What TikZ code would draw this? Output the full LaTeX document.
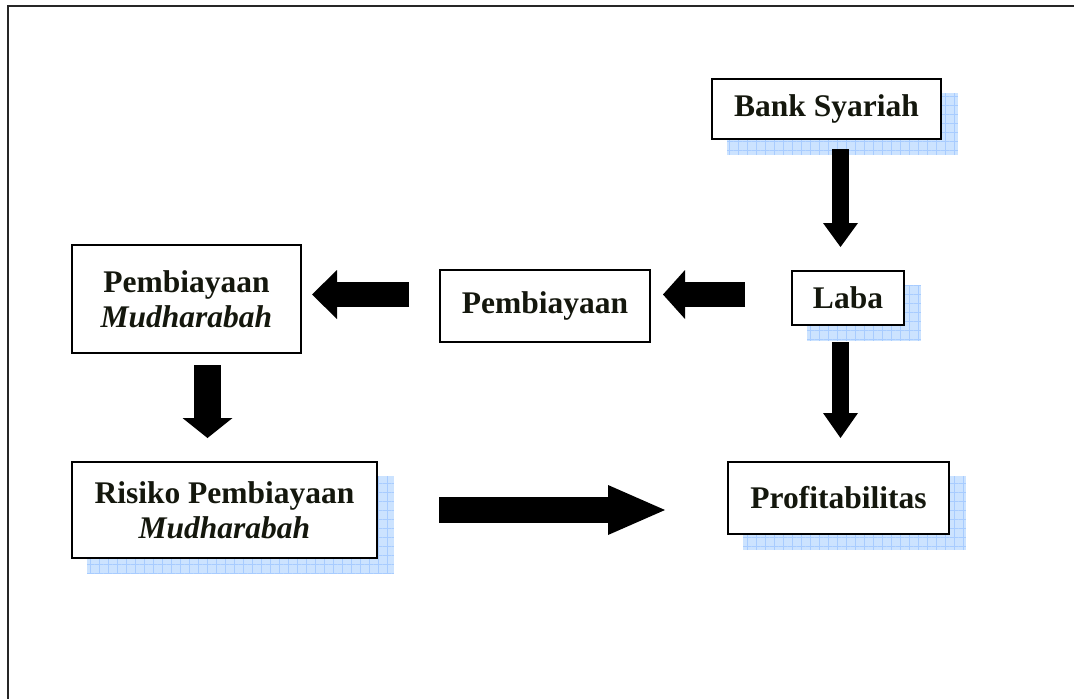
\documentclass[tikz,border=0pt]{standalone}
\usepackage{fontspec}
\setmainfont{Liberation Serif}
\usetikzlibrary{arrows.meta,calc,backgrounds,patterns.meta}
\definecolor{ShadowClr}{rgb}{0.80,0.89,1}
\definecolor{GridClr}{rgb}{0.66,0.80,1}
\definecolor{TextClr}{rgb}{0.08,0.09,0.05}

\tikzset{
  box/.style={draw=black,line width=1.6pt,fill=white,inner sep=0pt,align=center,
    text=TextClr,font=\fontsize{31.5}{35}\selectfont\bfseries},
  blockarr/.style n args={3}{line width=#1,line cap=butt,
    -{Triangle[length=#2,width=#3,line width=0pt]}},
  shadowbox/.style={fill=ShadowClr,postaction={pattern={Hatch[angle=0,distance=9pt,line width=0.6pt]},pattern color=GridClr}}
}

\begin{document}
\begin{tikzpicture}[x=1pt,y=-1pt]
\useasboundingbox (0,0) rectangle (1074,699);

\draw[line width=2pt,black!85] (8,699) -- (8,6) -- (1074,6);

\node[box,minimum width=229pt,minimum height=60pt] (bank) at (826.5,109) {Bank Syariah};
\node[box,minimum width=112pt,minimum height=54pt] (laba) at (848,298) {Laba};
\node[box,minimum width=210pt,minimum height=72pt] (pemb) at (545,306) {Pembiayaan};
\node[box,minimum width=229pt,minimum height=108pt] (pmud) at (186.5,299)
  {Pembiayaan\\\textit{Mudharabah}};
\node[box,minimum width=305pt,minimum height=96pt] (risk) at (224.5,510)
  {Risiko Pembiayaan\\\textit{Mudharabah}};
\node[box,minimum width=221pt,minimum height=72pt] (prof) at (838.5,498) {Profitabilitas};

\begin{scope}[on background layer]
\foreach \n in {bank,laba,risk,prof}
  \path[shadowbox] ($(\n.north west)+(16,15)$) rectangle ($(\n.south east)+(16,15)$);
\end{scope}

\coordinate (a1s) at (409,294.5);
\coordinate (a1e) at (312,294.5);
\coordinate (a2s) at (745,294.5);
\coordinate (a2e) at (663,294.5);
\coordinate (a3s) at (207.5,365);
\coordinate (a3e) at (207.5,438);
\coordinate (a4s) at (840.5,149);
\coordinate (a4e) at (840.5,247);
\coordinate (a5s) at (840.5,342);
\coordinate (a5e) at (840.5,438);
\coordinate (a6s) at (439,510);
\coordinate (a6e) at (665,510);

\draw[blockarr={25pt}{25pt}{49pt}] (a1s) -- (a1e);
\draw[blockarr={25pt}{22pt}{49pt}] (a2s) -- (a2e);
\draw[blockarr={27pt}{20pt}{50pt}] (a3s) -- (a3e);
\draw[blockarr={17pt}{24pt}{35pt}] (a4s) -- (a4e);
\draw[blockarr={17pt}{25pt}{35pt}] (a5s) -- (a5e);
\draw[blockarr={26pt}{57pt}{50pt}] (a6s) -- (a6e);

\end{tikzpicture}
\end{document}
